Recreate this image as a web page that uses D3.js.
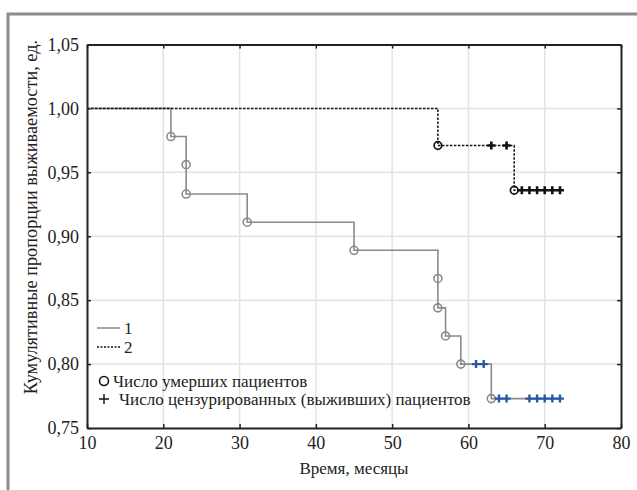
<!DOCTYPE html>
<html lang="ru">
<head>
  <meta charset="UTF-8">
  <title>Кумулятивные пропорции выживаемости</title>
  <script src="https://d3js.org/d3.v7.min.js"></script>
  <style>
    body { margin: 0; background: #fff; }
    svg text { font-family: "Times New Roman", "Liberation Serif", "DejaVu Serif", Times, serif; fill: #222; }
  </style>
</head>
<body>
  <script>
    // survival curve data (time in months, proportion)
    const xTicks = [10, 20, 30, 40, 50, 60, 70, 80]
    const yTicks = [0.75, 0.80, 0.85, 0.90, 0.95, 1.00, 1.05]

    // group 1: deaths (step points) and censored marks
    const deaths1 = [[21, 0.978], [23, 0.956], [23, 0.933], [31, 0.911], [45, 0.889],
      [56, 0.867], [56, 0.844], [57, 0.822], [59, 0.800], [63, 0.773]]
    const censored1 = [[61, 0.800], [62, 0.800], [64, 0.773], [65, 0.773],
      [68, 0.773], [69, 0.773], [70, 0.773], [71, 0.773], [72, 0.773]]

    // group 2
    const deaths2 = [[56, 0.971], [66, 0.936]]
    const censored2 = [[63, 0.971], [65, 0.971], [67, 0.936], [68, 0.936],
      [69, 0.936], [70, 0.936], [71, 0.936], [72, 0.936]]

    const startTime = 10
    const endTime = 72

    const w = 637
    const h = 490
    const margin = { top: 44.5, right: 16, bottom: 62, left: 87 }
    const serif = '"Times New Roman", "Liberation Serif", "DejaVu Serif", Times, serif'

    const svg = d3.select('body')
      .append('svg')
      .attr('width', w)
      .attr('height', h)
      .style('font-family', serif)

    // outer grey frame
    svg.append('rect')
      .attr('x', 8).attr('y', 14)
      .attr('width', w + 20).attr('height', h + 20)
      .attr('fill', 'none')
      .attr('stroke', '#8c8c8c')
      .attr('stroke-width', 3)

    const xScale = d3.scaleLinear()
      .domain([10, 80])
      .range([margin.left, w - margin.right])

    const yScale = d3.scaleLinear()
      .domain([0.75, 1.05])
      .range([h - margin.bottom, margin.top])

    // grid
    svg.append('g')
      .selectAll('line')
      .data(xTicks.slice(1, -1))
      .enter()
      .append('line')
      .attr('x1', d => xScale(d)).attr('x2', d => xScale(d))
      .attr('y1', yScale(1.05)).attr('y2', yScale(0.75))
      .attr('stroke', '#e3e3e3')
      .attr('stroke-width', 1.5)

    svg.append('g')
      .selectAll('line')
      .data(yTicks.slice(1, -1))
      .enter()
      .append('line')
      .attr('x1', xScale(10)).attr('x2', xScale(80))
      .attr('y1', d => yScale(d)).attr('y2', d => yScale(d))
      .attr('stroke', '#e3e3e3')
      .attr('stroke-width', 1.5)

    // axes (ticks inward)
    const fmt = d => d3.format('.2f')(d).replace('.', ',')

    const xAxis = d3.axisBottom(xScale).tickValues(xTicks).tickSizeInner(-4).tickSizeOuter(0).tickPadding(8)
    const yAxis = d3.axisLeft(yScale).tickValues(yTicks).tickSizeInner(-4).tickSizeOuter(0).tickPadding(8).tickFormat(fmt)
    const xTop = d3.axisTop(xScale).tickValues(xTicks).tickSizeInner(-4).tickSizeOuter(0).tickFormat('')
    const yRight = d3.axisRight(yScale).tickValues(yTicks).tickSizeInner(-4).tickSizeOuter(0).tickFormat('')

    const gx = svg.append('g')
      .attr('transform', `translate(0,${h - margin.bottom})`)
      .call(xAxis)
    const gy = svg.append('g')
      .attr('transform', `translate(${margin.left},0)`)
      .call(yAxis)
    svg.append('g')
      .attr('transform', `translate(0,${margin.top})`)
      .call(xTop)
    svg.append('g')
      .attr('transform', `translate(${w - margin.right},0)`)
      .call(yRight)

    svg.selectAll('g').attr('font-family', null)
    svg.selectAll('.domain').attr('stroke', '#222').attr('stroke-width', 2)
    svg.selectAll('.tick line').attr('stroke', '#222').attr('stroke-width', 1.5)
    gx.selectAll('text').attr('font-size', 18).attr('fill', '#222')
    gy.selectAll('text').attr('font-size', 18).attr('fill', '#222')

    // curves
    const line = d3.line()
      .x(d => xScale(d[0]))
      .y(d => yScale(d[1]))
      .curve(d3.curveStepAfter)

    const path1 = [[startTime, 1.0]].concat(deaths1, [[endTime, deaths1[deaths1.length - 1][1]]])
    const path2 = [[startTime, 1.0]].concat(deaths2, [[endTime, deaths2[deaths2.length - 1][1]]])

    svg.append('path')
      .datum(path1)
      .attr('d', line)
      .attr('fill', 'none')
      .attr('stroke', '#8a8a8a')
      .attr('stroke-width', 1.6)

    svg.append('path')
      .datum(path2)
      .attr('d', line)
      .attr('fill', 'none')
      .attr('stroke', '#111')
      .attr('stroke-width', 1.5)
      .attr('stroke-dasharray', '2.5,1.5')

    // death markers
    svg.append('g')
      .selectAll('circle')
      .data(deaths1)
      .enter()
      .append('circle')
      .attr('cx', d => xScale(d[0]))
      .attr('cy', d => yScale(d[1]))
      .attr('r', 4)
      .attr('fill', 'none')
      .attr('stroke', '#8a8a8a')
      .attr('stroke-width', 1.6)

    svg.append('g')
      .selectAll('circle')
      .data(deaths2)
      .enter()
      .append('circle')
      .attr('cx', d => xScale(d[0]))
      .attr('cy', d => yScale(d[1]))
      .attr('r', 3.8)
      .attr('fill', 'none')
      .attr('stroke', '#111')
      .attr('stroke-width', 1.7)

    // censored markers
    const cross = 'M-4,0H4M0,-4V4'
    svg.append('g')
      .selectAll('path')
      .data(censored1)
      .enter()
      .append('path')
      .attr('d', cross)
      .attr('transform', d => `translate(${xScale(d[0])},${yScale(d[1])})`)
      .attr('stroke', '#2857a8')
      .attr('stroke-width', 2.4)

    svg.append('g')
      .selectAll('path')
      .data(censored2)
      .enter()
      .append('path')
      .attr('d', cross)
      .attr('transform', d => `translate(${xScale(d[0])},${yScale(d[1])})`)
      .attr('stroke', '#111')
      .attr('stroke-width', 2.6)

    // legend
    const lg = svg.append('g')
    lg.append('line').attr('x1', 97).attr('x2', 120).attr('y1', 328).attr('y2', 328)
      .attr('stroke', '#8a8a8a').attr('stroke-width', 1.5)
    lg.append('text').attr('x', 124).attr('y', 333.5).attr('font-size', 17).text('1')
    lg.append('line').attr('x1', 97).attr('x2', 120).attr('y1', 347).attr('y2', 347)
      .attr('stroke', '#111').attr('stroke-width', 1.3).attr('stroke-dasharray', '2,1.5')
    lg.append('text').attr('x', 124).attr('y', 352.5).attr('font-size', 17).text('2')

    lg.append('circle').attr('cx', 104).attr('cy', 381).attr('r', 4.5)
      .attr('fill', 'none').attr('stroke', '#111').attr('stroke-width', 1.6)
    lg.append('text').attr('x', 113).attr('y', 386.5).attr('font-size', 17).text('Число умерших пациентов')
    lg.append('path').attr('d', 'M-5,0H5M0,-5V5').attr('transform', 'translate(104,399)')
      .attr('stroke', '#111').attr('stroke-width', 1.4)
    lg.append('text').attr('x', 119).attr('y', 404.5).attr('font-size', 17).text('Число цензурированных (выживших) пациентов')

    // axis titles
    svg.append('text')
      .attr('x', xScale(45))
      .attr('y', 474)
      .attr('text-anchor', 'middle')
      .attr('font-size', 17)
      .text('Время, месяцы')

    svg.append('text')
      .attr('transform', 'translate(37,217) rotate(-90)')
      .attr('text-anchor', 'middle')
      .attr('font-size', 18.3)
      .text('Кумулятивные пропорции выживаемости, ед.')
  </script>
</body>
</html>
